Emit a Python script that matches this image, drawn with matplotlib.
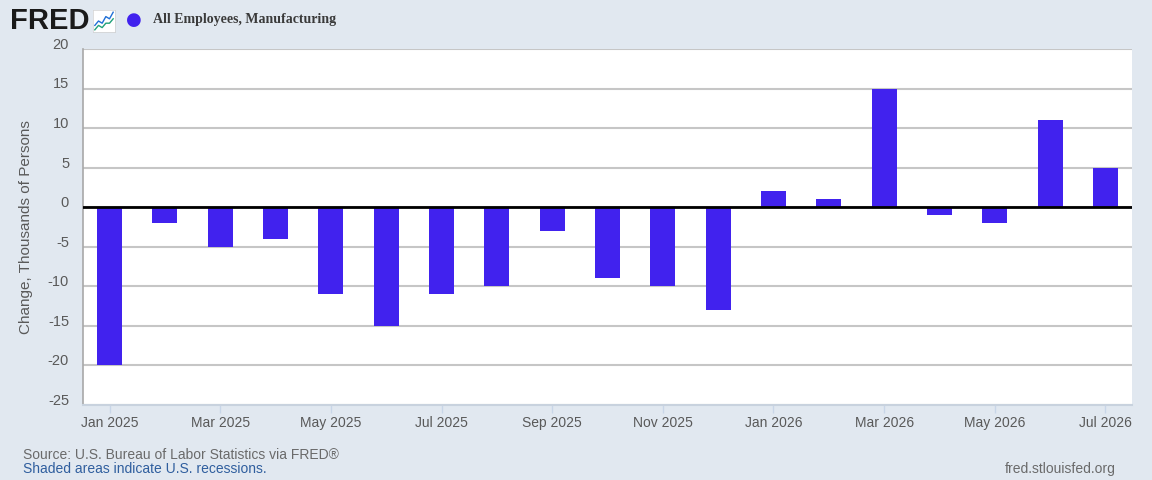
import numpy as np
import matplotlib
matplotlib.use('Agg')
from matplotlib import pyplot as plt
from matplotlib.transforms import offset_copy

# データ（月次変化, 千人）
months = ['Jan 2025', 'Feb 2025', 'Mar 2025', 'Apr 2025', 'May 2025', 'Jun 2025',
          'Jul 2025', 'Aug 2025', 'Sep 2025', 'Oct 2025', 'Nov 2025', 'Dec 2025',
          'Jan 2026', 'Feb 2026', 'Mar 2026', 'Apr 2026', 'May 2026', 'Jun 2026',
          'Jul 2026']
change = [-20, -2, -5, -4, -11, -15, -11, -10, -3, -9, -10, -13,
          2, 1, 15, -1, -2, 11, 5]
y_ticks = [-25, -20, -15, -10, -5, 0, 5, 10, 15, 20]

BG = '#e1e8f0'
BAR = '#4122ee'
TXT = '#595959'

plt.rcParams['font.family'] = ['Liberation Sans', 'DejaVu Sans']

fig = plt.figure(figsize=(11.52, 4.8), dpi=100, facecolor=BG)
ax = fig.add_axes([83 / 1152, 1 - 405 / 480, (1132 - 83) / 1152, (405 - 49) / 480])
ax.set_facecolor('white')

x = np.arange(len(months))
ax.bar(x, change, width=0.45, color=BAR, zorder=2)
ax.axhline(0, color='black', lw=2, zorder=3)

ax.set_xlim(-0.48, len(months) - 1 + 0.48)
ax.set_ylim(-25, 20)
ax.set_yticks(y_ticks)
ax.set_yticklabels([str(v) for v in y_ticks])
ax.yaxis.grid(True, color='#c6c6c6', lw=1.5)
ax.set_axisbelow(True)
ax.tick_params(axis='y', length=0, pad=10, labelsize=10.5, labelcolor=TXT)
for lab in ax.get_yticklabels():
    lab.set_transform(offset_copy(lab.get_transform(), fig=fig, x=0, y=4, units='points'))

ax.set_xticks(x[::2])
ax.set_xticklabels(months[::2])
ax.tick_params(axis='x', length=6, width=1, color='#c8d6e8', pad=2,
               labelsize=10, labelcolor=TXT)

for s in ['top', 'right']:
    ax.spines[s].set_visible(False)
ax.spines['left'].set_color('#a8a8a8')
ax.spines['left'].set_linewidth(1.2)
ax.spines['bottom'].set_color('#c8d2de')
ax.spines['bottom'].set_linewidth(1.5)

ax.set_ylabel('Change, Thousands of Persons', fontsize=11, color=TXT)
ax.yaxis.set_label_coords(-0.048, 0.5)

# ヘッダー
fig.text(10 / 1152, 1 - 21 / 480, 'FRED', fontsize=21, fontweight='bold',
         color='#1a1a1a', va='center', ha='left')
icon = fig.add_axes([93 / 1152, 1 - 32 / 480, 22 / 1152, 22 / 480])
icon.set_facecolor('white')
icon.plot([0, 2, 4, 6, 8, 10], [3, 5, 4, 7, 6, 9], color='#1f6fd6', lw=1)
icon.plot([0, 2, 4, 6, 8, 10], [1, 3, 2, 4, 4, 6], color='#21a179', lw=1)
icon.set_xlim(-1, 11)
icon.set_ylim(0, 10)
icon.set_xticks([])
icon.set_yticks([])
for s in icon.spines.values():
    s.set_color('#d0d0d0')
    s.set_linewidth(0.5)
fig.text(134 / 1152, 1 - 20 / 480, '\u25cf', fontsize=13, color=BAR,
         ha='center', va='center', family='DejaVu Sans')
fig.text(153 / 1152, 1 - 20 / 480, 'All Employees, Manufacturing', fontsize=10,
         fontweight='bold', color='#3a3a3a', va='center', ha='left',
         family=['Liberation Serif', 'DejaVu Serif'])

# フッター
fig.text(23 / 1152, 1 - 455 / 480, 'Source: U.S. Bureau of Labor Statistics via FRED\u00ae',
         fontsize=10, color='#6a6a6a', va='center', ha='left')
fig.text(23 / 1152, 1 - 469 / 480, 'Shaded areas indicate U.S. recessions.',
         fontsize=10, color='#2f5e9e', va='center', ha='left')
fig.text(1116 / 1152, 1 - 469 / 480, 'fred.stlouisfed.org', fontsize=10,
         color='#6a6a6a', va='center', ha='right')

fig.savefig('out.png', dpi=100, facecolor=BG)
